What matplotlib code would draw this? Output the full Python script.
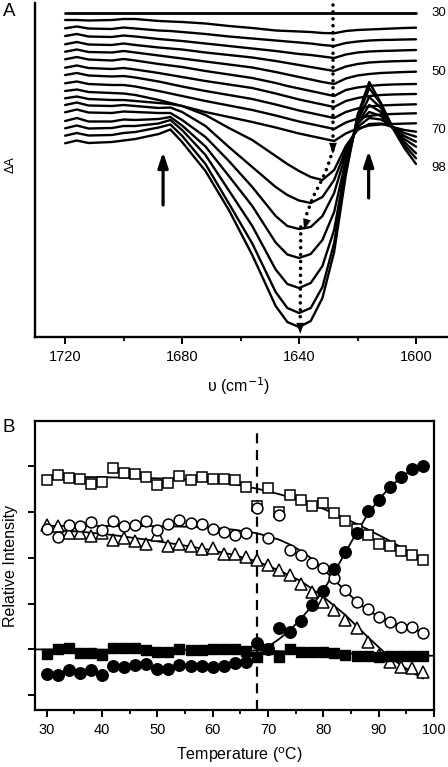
import matplotlib
matplotlib.use('Agg')
import matplotlib.pyplot as plt
from matplotlib.ticker import FixedLocator, NullFormatter

plt.rcParams['font.family'] = ['Liberation Sans', 'DejaVu Sans']

# ---------------- Panel A: temperature difference spectra ----------------
wavenumber = [1720, 1716, 1712, 1704, 1700, 1696, 1688, 1684, 1680, 1672, 1664, 1656,
              1648, 1644, 1640, 1636, 1632, 1628, 1624, 1620, 1616, 1612, 1608, 1604, 1600]
spec_temps = [30, 34, 38, 42, 46, 50, 54, 58, 62, 66, 70, 74, 78, 82, 86, 90, 94, 98]
# displayed (offset) difference absorbance, arbitrary units
dA_30 = [0, 0, 0, 0, 0, 0, 0, 0, 0, 0, 0, 0, 0, 0, 0, 0, 0, 0, 0, 0, 0, 0, 0, 0, 0]
dA_34 = [-7, -7, -7.5, -7, -6, -6, -8, -8.5, -9, -10.5, -13, -15, -17.5, -18, -18.5, -19, -20, -20.3, -18, -17, -16.5, -16, -15.5, -15, -14.7]
dA_38 = [-15.3, -13.5, -15.5, -16, -14.5, -15.5, -17.5, -18, -19, -21, -23.5, -25.5, -27.5, -28.5, -29.5, -30.5, -32, -33, -30, -28.5, -27.5, -27, -26.8, -26.5, -26.3]
dA_42 = [-23, -21, -23.5, -24, -22.5, -23.5, -26, -27, -28, -30.5, -33, -35.5, -38, -39.5, -41, -42, -43.5, -45, -41.5, -39.5, -38.5, -38, -37.7, -37.3, -37]
dA_46 = [-31.3, -29, -31.5, -32, -30.5, -32, -34.5, -35.5, -36.5, -39.5, -42, -44.5, -48, -50, -52, -54, -56, -58, -53.5, -51, -49.5, -48.8, -48.3, -48, -47.7]
dA_50 = [-38.7, -36.5, -39, -39.5, -38, -39.5, -42.5, -44, -45.5, -48.5, -51.5, -54.5, -59, -61.5, -64, -66.5, -69, -71, -65.5, -62.5, -61, -60, -59.5, -59, -58.7]
dA_54 = [-46.3, -44, -46.5, -47.5, -46, -47.5, -51, -52.5, -54, -58, -61.5, -65, -70, -73, -75.5, -78, -80.5, -83, -77, -74.5, -73, -72, -71.5, -71.2, -71]
dA_58 = [-54.7, -52.5, -55, -56, -55, -56.5, -60, -62, -64, -68, -71.5, -75, -80.5, -83.5, -86.5, -89, -91.5, -94, -88, -85, -83, -82, -81.5, -81.2, -81]
dA_62 = [-62, -60, -62.5, -63.5, -63, -64.5, -68.5, -71, -73.5, -78, -82, -86, -91.5, -94.5, -97.5, -100, -102.5, -105, -99, -95.5, -93.5, -92.5, -92, -91.6, -91.3]
dA_66 = [-70.3, -68.5, -71, -72, -72, -73.5, -78, -80.5, -83, -88, -92.5, -97, -102.5, -105.5, -108.5, -111, -113.5, -116, -109.5, -105.5, -103, -101.5, -101, -100.6, -100.3]
dA_70 = [-78, -76.5, -79, -80, -80.5, -82, -87, -90, -93, -99, -104, -109, -114.5, -117.5, -120.5, -123, -125.5, -128, -120.5, -115.5, -112.5, -111.5, -111, -110.6, -110.3]
dA_74 = [-85.3, -83.5, -86, -87, -87, -88, -90, -91, -93, -102, -115, -127, -143, -151, -158, -164, -167, -157, -133, -117, -111, -110.5, -114, -117, -118.7]
dA_78 = [-92, -89.5, -92.5, -93, -92, -93, -95, -94.5, -99, -113, -134, -154, -174, -182, -187.5, -190, -184, -167, -137, -114, -105, -106.5, -114, -120, -123.7]
dA_82 = [-99.3, -96.5, -99.5, -100, -98.5, -99, -100, -100, -107, -124, -148, -174, -203, -213, -216, -214, -203, -180, -141, -111, -99, -103, -115, -123, -128.7]
dA_86 = [-108, -105, -108.5, -108.5, -106.5, -107, -106, -104, -112.5, -133.5, -163, -193, -229.5, -241.5, -245, -241, -227, -199, -147, -111, -92, -99, -115, -126, -133.7]
dA_90 = [-115.3, -112.5, -115.5, -115, -113, -113, -110.5, -107, -117, -142, -177.5, -213, -256.5, -271, -275, -270, -253, -217, -152, -108, -84, -95, -114, -129, -140.3]
dA_94 = [-122.7, -120, -122.5, -122, -120, -119, -114.5, -111.5, -122.8, -151, -190.5, -230.5, -279, -295, -300, -295, -274, -230, -157, -105, -75, -91, -114, -132, -145.3]
dA_98 = [-130.3, -127.5, -130, -129, -127.5, -126, -121, -116.5, -129, -158, -197, -242, -293, -309, -314, -308, -285, -239, -162, -102, -69, -90, -115, -135, -151]
spectra = [dA_30, dA_34, dA_38, dA_42, dA_46, dA_50, dA_54, dA_58, dA_62, dA_66,
           dA_70, dA_74, dA_78, dA_82, dA_86, dA_90, dA_94, dA_98]
label_temps = [30, 50, 70, 98]
label_levels = [0, -58.7, -117, -155]

# dotted guide arrows (band shift) and solid arrows (band growth)
shift1_w = [1628.4, 1628.4]
shift1_y = [8, -127]
shift2_w = [1628.4, 1630.4, 1632.2, 1635.2, 1637.9]
shift2_y = [-137, -155, -167, -184, -205]
shift3_w = [1639.4, 1639.6]
shift3_y = [-214, -307]
arrow_w = [1686.5, 1616.2]
arrow_y0 = [-192, -185]
arrow_y1 = [-139, -138]

# ---------------- Panel B: relative intensities ----------------
temps = [30, 32, 34, 36, 38, 40, 42, 44, 46, 48, 50, 52, 54, 56, 58, 60, 62, 64,
         66, 68, 70, 72, 74, 76, 78, 80, 82, 84, 86, 88, 90, 92, 94, 96, 98]
open_squares = [0.739, 0.761, 0.751, 0.744, 0.722, 0.732, 0.795, 0.771, 0.769, 0.754, 0.721, 0.727,
                0.757, 0.742, 0.754, 0.747, 0.747, 0.739, 0.710, 0.626, 0.706, 0.600, 0.675, 0.652,
                0.626, 0.638, 0.597, 0.562, 0.528, 0.499, 0.460, 0.451, 0.431, 0.412, 0.390]
open_circles = [0.525, 0.492, 0.543, 0.540, 0.556, 0.521, 0.560, 0.538, 0.546, 0.562, 0.521, 0.550,
                0.565, 0.553, 0.550, 0.528, 0.514, 0.499, 0.507, 0.617, 0.486, 0.586, 0.434, 0.412,
                0.377, 0.357, 0.311, 0.259, 0.208, 0.176, 0.141, 0.121, 0.099, 0.099, 0.070]
open_triangles = [0.543, 0.538, 0.507, 0.507, 0.495, 0.509, 0.480, 0.485, 0.474, 0.463, 0.500, 0.451,
                  0.463, 0.451, 0.441, 0.445, 0.419, 0.419, 0.404, 0.390, 0.368, 0.346, 0.325, 0.288,
                  0.252, 0.208, 0.171, 0.128, 0.092, 0.033, -0.025, -0.054, -0.076, -0.083, -0.098]
filled_squares = [-0.021, 0.0, 0.004, -0.015, -0.017, -0.025, 0.004, 0.004, 0.004, -0.003, -0.010, -0.010,
                  0.0, -0.003, -0.003, 0.0, 0.0, 0.0, -0.006, -0.032, 0.0, -0.032, 0.0, -0.010,
                  -0.010, -0.010, -0.017, -0.025, -0.029, -0.029, -0.032, -0.029, -0.029, -0.029, -0.029]
filled_circles = [-0.108, -0.112, -0.090, -0.105, -0.090, -0.112, -0.073, -0.076, -0.069, -0.064, -0.087, -0.087,
                  -0.069, -0.073, -0.073, -0.076, -0.073, -0.058, -0.054, 0.026, 0.0, 0.092, 0.077, 0.125,
                  0.193, 0.256, 0.350, 0.426, 0.509, 0.605, 0.655, 0.710, 0.754, 0.787, 0.802]

fit_sq_T = [30, 40, 50, 56, 60, 64, 68, 72, 76, 80, 84, 88, 92, 96, 98]
fit_sq_v = [0.755, 0.753, 0.748, 0.742, 0.735, 0.722, 0.703, 0.679, 0.650, 0.615, 0.572, 0.525, 0.475, 0.420, 0.392]
fit_ci_T = [30, 40, 50, 56, 60, 64, 68, 72, 74, 76, 78, 80, 82, 84, 86, 88, 90, 92, 94, 96, 98]
fit_ci_v = [0.540, 0.540, 0.539, 0.536, 0.532, 0.523, 0.508, 0.480, 0.458, 0.430, 0.395, 0.352, 0.303, 0.256,
            0.210, 0.172, 0.143, 0.120, 0.102, 0.088, 0.077]
fit_tr_T = [30, 36, 42, 48, 54, 60, 64, 68, 72, 76, 80, 84, 88, 92, 96, 98]
fit_tr_v = [0.523, 0.515, 0.500, 0.480, 0.458, 0.433, 0.412, 0.385, 0.345, 0.298, 0.230, 0.150, 0.055,
            -0.035, -0.100, -0.127]
fit_fs_T = [27.9, 60, 70, 80, 90, 100]
fit_fs_v = [0.0, -0.002, -0.006, -0.014, -0.022, -0.028]
fit_fc_T = [68, 70, 72, 74, 76, 78, 80, 82, 84, 86, 88, 90, 92, 94, 96, 98]
fit_fc_v = [-0.005, 0.012, 0.045, 0.085, 0.135, 0.192, 0.258, 0.338, 0.425, 0.510, 0.590, 0.655, 0.708,
            0.752, 0.785, 0.803]
transition_T = 68

# ---------------- Figure ----------------
W, H = 448, 767
fig = plt.figure(figsize=(W / 100, H / 100), dpi=100)

axA = fig.add_axes([35 / W, 1 - 337 / H, 412 / W, 334 / H])
for i, s in enumerate(spectra):
    axA.plot(wavenumber, s, color='black', lw=2.0 if i == 0 else 1.7, solid_joinstyle='round',
             solid_capstyle='round', zorder=3)
axA.set_xlim(1730.3, 1589.4)
axA.set_ylim(-324, 10)
for sp in ['top', 'right']:
    axA.spines[sp].set_visible(False)
for sp in ['left', 'bottom']:
    axA.spines[sp].set_linewidth(1.7)
axA.set_yticks([])
axA.xaxis.set_major_locator(FixedLocator([1720, 1680, 1640, 1600]))
axA.xaxis.set_minor_locator(FixedLocator([1700, 1660, 1620]))
axA.xaxis.set_minor_formatter(NullFormatter())
axA.tick_params(axis='x', which='major', direction='out', length=5, width=1.4, labelsize=10.5, pad=4)
axA.tick_params(axis='x', which='minor', direction='out', length=3, width=1.3)

dot_style = dict(color='black', lw=2.6, linestyle=(0, (0.01, 1.9)), dash_capstyle='round', zorder=4)
axA.plot(shift1_w, shift1_y, **dot_style)
axA.plot(shift2_w, shift2_y, **dot_style)
axA.plot(shift3_w, shift3_y, **dot_style)
head = dict(arrowstyle='-|>,head_length=0.8,head_width=0.28', color='black', lw=0.01,
            shrinkA=0, shrinkB=0, mutation_scale=10)
axA.annotate('', xy=(shift1_w[-1], shift1_y[-1] - 14), xytext=(shift1_w[-1], shift1_y[-1]), arrowprops=head, zorder=5)
axA.annotate('', xy=(shift2_w[-1] + 0.4, shift2_y[-1] - 12), xytext=(shift2_w[-2], shift2_y[-2]),
             arrowprops=head, zorder=5)
axA.annotate('', xy=(shift3_w[-1], shift3_y[-1] - 14), xytext=(shift3_w[-1], shift3_y[-1]), arrowprops=head, zorder=5)
for w, y0, y1 in zip(arrow_w, arrow_y0, arrow_y1):
    axA.annotate('', xy=(w, y1), xytext=(w, y0),
                 arrowprops=dict(arrowstyle='-|>,head_length=0.9,head_width=0.3', color='black', lw=2.3,
                                 shrinkA=0, shrinkB=0, mutation_scale=10))
for t, lv in zip(label_temps, label_levels):
    axA.text(1592.3, lv, str(t), ha='center', va='center', fontsize=9.5, clip_on=False)

fig.text(9 / W, 1 - 12 / H, 'A', fontsize=13.5, ha='center', va='center')
fig.text(11 / W, 1 - 165 / H, 'ΔA', fontsize=9, rotation=90, ha='center', va='center')
fig.text(239 / W, 1 - 386 / H, 'υ (cm$^{-1}$)', fontsize=11.5, ha='center', va='center')

# Panel B
axB = fig.add_axes([35 / W, 1 - 710 / H, 399 / W, 289.3 / H])
axB.axvline(transition_T, ymin=0, ymax=0.978, color='black', lw=1.6, linestyle=(0, (4.5, 3)), zorder=1)
line_kw = dict(color='black', lw=1.3, zorder=2)
axB.plot(fit_sq_T, fit_sq_v, **line_kw)
axB.plot(fit_ci_T, fit_ci_v, **line_kw)
axB.plot(fit_tr_T, fit_tr_v, **line_kw)
axB.plot(fit_fs_T, fit_fs_v, **line_kw)
axB.plot(fit_fc_T, fit_fc_v, **line_kw)
open_kw = dict(linestyle='none', mfc='white', mec='black', mew=1.1)
axB.plot(temps, open_squares, marker='s', ms=7, zorder=3, **open_kw)
axB.plot(temps, open_triangles, marker='^', ms=8, zorder=3, **open_kw)
axB.plot(temps, open_circles, marker='o', ms=7.8, zorder=4, **open_kw)
axB.plot(temps, filled_squares, marker='s', ms=7.3, linestyle='none', color='black', zorder=5)
axB.plot(temps, filled_circles, marker='o', ms=8.3, linestyle='none', color='black', zorder=5)
axB.set_xlim(27.9, 100)
axB.set_ylim(-0.265, 1.0)
for sp in axB.spines.values():
    sp.set_linewidth(1.6)
axB.yaxis.set_major_locator(FixedLocator([-0.2, 0.0, 0.2, 0.4, 0.6, 0.8]))
axB.yaxis.set_major_formatter(NullFormatter())
axB.xaxis.set_major_locator(FixedLocator([30, 40, 50, 60, 70, 80, 90, 100]))
axB.xaxis.set_minor_locator(FixedLocator([35, 45, 55, 65, 75, 85, 95]))
axB.xaxis.set_minor_formatter(NullFormatter())
axB.tick_params(axis='both', which='major', direction='out', length=5, width=1.4, labelsize=10.5, pad=4)
axB.tick_params(axis='x', which='minor', direction='out', length=3, width=1.3)

fig.text(9 / W, 1 - 427 / H, 'B', fontsize=13.5, ha='center', va='center')
fig.text(10 / W, 1 - 566 / H, 'Relative Intensity', fontsize=11.5, rotation=90, ha='center', va='center')
fig.text(239 / W, 1 - 755 / H, 'Temperature ($^{\\mathrm{o}}$C)', fontsize=11.5, ha='center', va='center')

fig.savefig('out.png', dpi=100)
